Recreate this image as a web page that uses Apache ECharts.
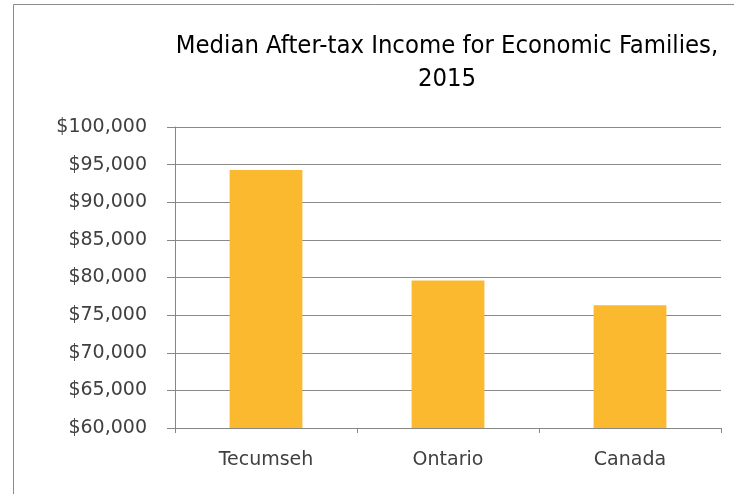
<!DOCTYPE html>
<html>
<head>
<meta charset="utf-8">
<script src="https://cdn.jsdelivr.net/npm/echarts@6/dist/echarts.min.js"></script>
<style>
  html, body { margin: 0; padding: 0; background: #fff; }
  #chart { width: 734px; height: 494px; }
</style>
</head>
<body>
<div id="chart"></div>
<script>
// data
var places = ['Tecumseh', 'Ontario', 'Canada'];
var income = [94300, 79600, 76300];

var chart = echarts.init(document.getElementById('chart'));

function money(v) {
  return '$' + String(v).replace(/\B(?=(\d{3})+(?!\d))/g, ',');
}

chart.setOption({
  animation: false,
  title: {
    text: 'Median After-tax Income for Economic Families,\n2015',
    left: 442,
    top: 25,
    textAlign: 'center',
    textStyle: {
      fontFamily: 'Liberation Sans Narrow, DejaVu Sans Condensed, sans-serif',
      fontSize: 25.4,
      fontWeight: 'normal',
      color: '#000',
      lineHeight: 33
    }
  },
  graphic: [{
    type: 'rect',
    shape: { x: 13.5, y: 4.5, width: 800, height: 600 },
    style: { fill: 'none', stroke: '#8c8c8c', lineWidth: 1 },
    silent: true
  }],
  grid: { left: 175, right: 13, top: 127, bottom: 66 },
  xAxis: {
    type: 'category',
    data: places,
    axisLine: { lineStyle: { color: '#868686' } },
    axisTick: { show: true, length: 5, lineStyle: { color: '#868686' } },
    axisLabel: {
      margin: 23,
      fontSize: 19,
      color: '#404040',
      fontFamily: 'DejaVu Sans, sans-serif'
    }
  },
  yAxis: {
    type: 'value',
    min: 60000,
    max: 100000,
    interval: 5000,
    axisLine: { show: true, lineStyle: { color: '#868686' } },
    axisTick: { show: true, length: 8, lineStyle: { color: '#868686' } },
    splitLine: { lineStyle: { color: '#8a8a8a', width: 1 } },
    axisLabel: {
      formatter: money,
      margin: 28,
      fontSize: 19,
      color: '#404040',
      fontFamily: 'DejaVu Sans, sans-serif'
    }
  },
  series: [{
    type: 'bar',
    data: income,
    barWidth: '40%',
    itemStyle: { color: '#fbb92f' }
  }]
});
</script>
</body>
</html>
